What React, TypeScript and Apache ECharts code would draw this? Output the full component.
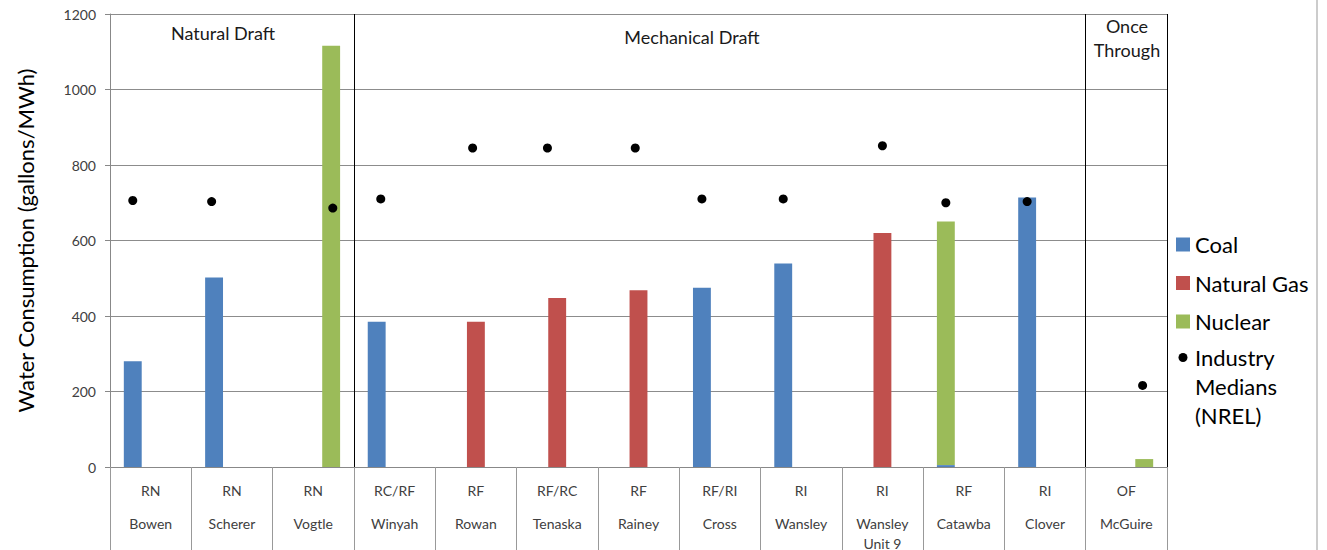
import React, { useEffect, useRef } from "react";
import * as echarts from "echarts";

const plants = ["Bowen", "Scherer", "Vogtle", "Winyah", "Rowan", "Tenaska", "Rainey", "Cross", "Wansley", "Wansley\nUnit 9", "Catawba", "Clover", "McGuire"];
const coolingTypes = ["RN", "RN", "RN", "RC/RF", "RF", "RF/RC", "RF", "RF/RI", "RI", "RI", "RF", "RI", "OF"];

const coal = [280, 502, null, 385, null, null, null, 475, 539, null, 5, 714, null];
const naturalGas = [null, null, null, null, 385, 448, 468, null, null, 620, null, null, null];
const nuclear = [null, null, 1116, null, null, null, null, null, null, null, null, null, 21];
// Catawba's nuclear bar sits in the first slot, on top of its tiny coal value
const nuclearFirstSlot = [null, null, null, null, null, null, null, null, null, null, 645, null, null];

// Industry medians: x position (category index + offset within category) and value
const medianX = [0.28, 1.25, 2.74, 3.33, 4.46, 5.38, 6.46, 7.28, 8.28, 9.5, 10.28, 11.28, 12.7];
const medianY = [706, 703, 686, 710, 845, 845, 845, 710, 710, 851, 700, 703, 216];

const sectionBoundaries = [3, 12, 13];

const yTicks = { min: 0, max: 1200, interval: 200 };

const COAL = "#4F81BD";
const GAS = "#C0504D";
const NUC = "#9BBB59";
const FONT = "Lato, 'Open Sans', sans-serif";
const MEDIANS = "Industry Medians (NREL)";

export default function App() {
  const ref = useRef<HTMLDivElement>(null);
  useEffect(() => {
    document.body.style.margin = "0";
    if (!ref.current) return;
    const chart = echarts.init(ref.current, undefined, { renderer: "svg" });
    const barCommon = { type: "bar", barGap: "0%", barCategoryGap: "34%", xAxisIndex: 0, yAxisIndex: 0 };
    const textEl = (text: string, x: number, y: number, size: number) => ({
      type: "text",
      x,
      y,
      silent: true,
      style: {
        text,
        fill: "#1a1a1a",
        font: `${size}px ${FONT}`,
        fontSize: size,
        fontFamily: FONT,
        align: "center",
        verticalAlign: "middle",
        textAlign: "center",
        textVerticalAlign: "middle",
        lineHeight: 24,
      },
    });
    const legendText = { fontSize: 22, lineHeight: 29, color: "#000", fontFamily: FONT };
    chart.setOption({
      animation: false,
      textStyle: { fontFamily: FONT },
      grid: { left: 110, right: 160, top: 14, bottom: 83, containLabel: false },
      legend: [
        {
          orient: "vertical",
          left: 1176,
          top: 230,
          height: 300,
          padding: 0,
          itemWidth: 14,
          itemHeight: 14,
          itemGap: 9.5,
          selectedMode: false,
          textStyle: legendText,
          data: [
            { name: "Coal", icon: "rect" },
            { name: "Natural Gas", icon: "rect" },
            { name: "Nuclear", icon: "rect" },
          ],
        },
        {
          orient: "vertical",
          left: 1176,
          top: 285,
          height: 260,
          padding: 0,
          itemWidth: 14,
          itemHeight: 14,
          selectedMode: false,
          textStyle: legendText,
          data: [
            {
              name: MEDIANS,
              icon: "path://M0,0M14,14M2.5,7A4.5,4.5,0,1,1,11.5,7A4.5,4.5,0,1,1,2.5,7Z",
            },
          ],
          formatter: () => "\n\nIndustry\nMedians\n(NREL)",
        },
      ],
      xAxis: [
        {
          type: "category",
          data: plants,
          boundaryGap: true,
          axisLine: { show: true, lineStyle: { color: "#888", width: 1 } },
          axisTick: { show: true, interval: 0, length: 83, lineStyle: { color: "#999", width: 1 } },
          axisLabel: {
            interval: 0,
            margin: 10,
            color: "#404040",
            formatter: (v: string, i: number) => `{t|${coolingTypes[i]}}\n{s| }\n{n|${v}}`,
            rich: {
              t: { fontSize: 14, lineHeight: 26, color: "#404040", fontFamily: FONT },
              s: { fontSize: 4, lineHeight: 10 },
              n: { fontSize: 14, lineHeight: 20, color: "#404040", fontFamily: FONT },
            },
          },
          splitLine: { show: false },
        },
        { type: "value", min: 0, max: 13, show: false },
      ],
      yAxis: {
        type: "value",
        min: yTicks.min,
        max: yTicks.max,
        interval: yTicks.interval,
        name: "Water Consumption (gallons/MWh)",
        nameLocation: "middle",
        nameGap: 74,
        nameTextStyle: { fontSize: 22, color: "#000", fontFamily: FONT },
        axisLine: { show: true, lineStyle: { color: "#888" } },
        axisTick: { show: true, length: 5, lineStyle: { color: "#888" } },
        axisLabel: { fontSize: 14, color: "#404040", margin: 14, fontFamily: FONT, formatter: (v: number) => String(v) },
        splitLine: { show: true, lineStyle: { color: "#8c8c8c", width: 1 } },
      },
      graphic: [
        textEl("Natural Draft", 223, 33, 18),
        textEl("Mechanical Draft", 692, 37, 18),
        textEl("Once\nThrough", 1127, 38, 18),
        { type: "line", silent: true, shape: { x1: 1317, y1: 0, x2: 1317, y2: 550 }, style: { stroke: "#999", lineWidth: 1 } },
      ],
      series: [
        { ...barCommon, name: "Coal", stack: "slot1", data: coal, itemStyle: { color: COAL } },
        { ...barCommon, name: "Nuclear", stack: "slot1", data: nuclearFirstSlot, itemStyle: { color: NUC } },
        { ...barCommon, name: "Natural Gas", stack: "slot2", data: naturalGas, itemStyle: { color: GAS } },
        { ...barCommon, name: "Nuclear", stack: "slot3", data: nuclear, itemStyle: { color: NUC } },
        {
          name: MEDIANS,
          type: "scatter",
          xAxisIndex: 1,
          yAxisIndex: 0,
          symbol: "circle",
          symbolSize: 9,
          itemStyle: { color: "#000", opacity: 1 },
          data: medianX.map((x, i) => [x, medianY[i]]),
          z: 5,
          markLine: {
            silent: true,
            symbol: "none",
            label: { show: false },
            lineStyle: { color: "#000", width: 1, type: "solid" },
            data: sectionBoundaries.map((b) => ({ xAxis: b })),
          },
        },
      ],
    });
    return () => chart.dispose();
  }, []);
  return <div ref={ref} style={{ width: 1327, height: 550 }} />;
}
